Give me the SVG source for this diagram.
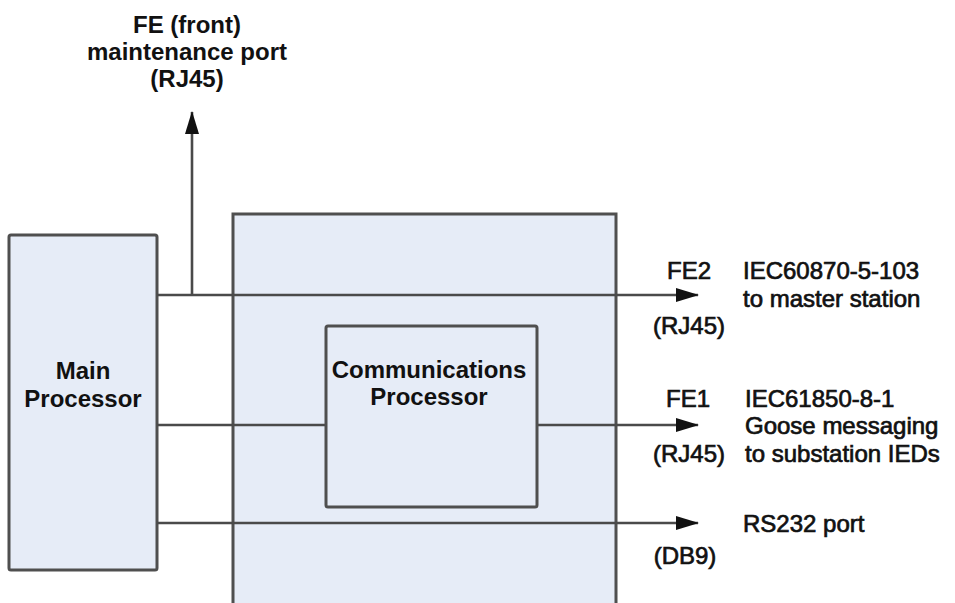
<svg xmlns="http://www.w3.org/2000/svg" width="955" height="603" viewBox="0 0 955 603">
<defs>
<style>
.box{fill:#e6ecf7;stroke:#4f4f4f;stroke-width:3}
.ln{fill:none;stroke:#4a4a4a;stroke-width:2.6}
.t{font-family:"Liberation Sans",Arial,sans-serif;font-size:24px;fill:#111}
.b{font-weight:bold}
.h{stroke:#111;stroke-width:0.7}
.c{text-anchor:middle}
</style>
<marker id="ah" markerUnits="userSpaceOnUse" markerWidth="23" markerHeight="14" refX="22" refY="7" orient="auto">
<path d="M0,0 L23,7 L0,14 z" fill="#111"/>
</marker>
</defs>
<rect width="955" height="603" fill="#ffffff"/>
<g id="comm-module">
<rect class="box" x="233" y="214" width="383" height="420"/>
</g>
<g id="main-processor">
<rect class="box" x="9" y="235" width="148" height="335" rx="2"/>
<text class="t b c" x="83" y="379">Main</text>
<text class="t b c" x="83" y="407">Processor</text>
</g>
<g id="connectors">
<line class="ln" x1="157" y1="295" x2="698" y2="295" marker-end="url(#ah)"/>
<line class="ln" x1="192" y1="295" x2="192" y2="112" marker-end="url(#ah)"/>
<line class="ln" x1="157" y1="425" x2="326" y2="425"/>
<line class="ln" x1="537" y1="425" x2="698" y2="425" marker-end="url(#ah)"/>
<line class="ln" x1="157" y1="523" x2="698" y2="523" marker-end="url(#ah)"/>
</g>
<g id="communications-processor">
<rect class="box" x="326" y="326" width="211" height="181" rx="2"/>
<text class="t b c" x="429" y="378">Communications</text>
<text class="t b c" x="429" y="405">Processor</text>
</g>
<g id="front-port-label">
<text class="t b c" x="187" y="33">FE (front)</text>
<text class="t b c" x="187" y="60">maintenance port</text>
<text class="t b c" x="187" y="87">(RJ45)</text>
</g>
<g id="fe2-label">
<text class="t h c" x="689" y="279">FE2</text>
<text class="t h c" x="689" y="334">(RJ45)</text>
<text class="t h" x="743" y="279">IEC60870-5-103</text>
<text class="t h" x="743" y="307">to master station</text>
</g>
<g id="fe1-label">
<text class="t h c" x="688" y="407">FE1</text>
<text class="t h c" x="689" y="462">(RJ45)</text>
<text class="t h" x="745" y="407">IEC61850-8-1</text>
<text class="t h" x="745" y="434">Goose messaging</text>
<text class="t h" x="745" y="462">to substation IEDs</text>
</g>
<g id="rs232-label">
<text class="t h" x="743" y="532">RS232 port</text>
<text class="t h c" x="685" y="564">(DB9)</text>
</g>
</svg>
